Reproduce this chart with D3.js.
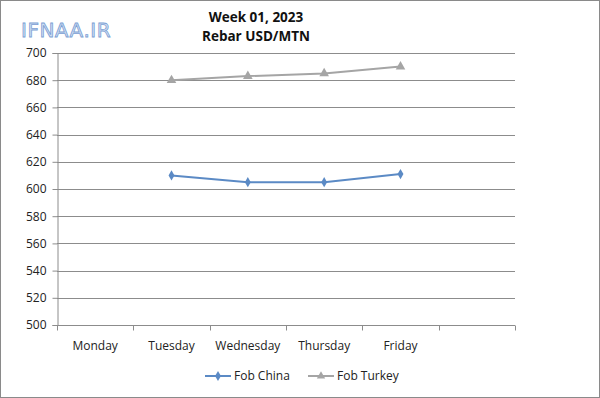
<!DOCTYPE html>
<html>
<head>
<meta charset="utf-8">
<script src="https://cdn.jsdelivr.net/npm/d3@7"></script>
<style>
  body { margin: 0; background: #fff; }
  svg { display: block; font-family: "Open Sans", "DejaVu Sans", sans-serif; }
</style>
</head>
<body>
<div id="chart"></div>
<script>
// chart data
const days = ["Monday", "Tuesday", "Wednesday", "Thursday", "Friday", ""];
const yTicks = [500, 520, 540, 560, 580, 600, 620, 640, 660, 680, 700];
const chinaDays = ["Tuesday", "Wednesday", "Thursday", "Friday"];
const chinaValues = [610, 605, 605, 611];
const turkeyDays = ["Tuesday", "Wednesday", "Thursday", "Friday"];
const turkeyValues = [680, 683, 685, 690];
const seriesNames = ["Fob China", "Fob Turkey"];

const width = 600, height = 398;
const margin = { top: 53, left: 57, right: 85, bottom: 73 };

const svg = d3.select("#chart").append("svg")
  .attr("width", width).attr("height", height);

// outer frame
svg.append("rect")
  .attr("x", 0.5).attr("y", 0.5)
  .attr("width", width - 1).attr("height", height - 1)
  .attr("fill", "#fff").attr("stroke", "#8a8a8a").attr("stroke-width", 1);

const x = d3.scaleBand()
  .domain(days)
  .range([margin.left, width - margin.right]);

const y = d3.scaleLinear()
  .domain([500, 700])
  .range([height - margin.bottom, margin.top]);

// gridlines
svg.append("g")
  .selectAll("line")
  .data(yTicks.slice(1))
  .join("line")
  .attr("x1", margin.left).attr("x2", width - margin.right)
  .attr("y1", d => Math.round(y(d)) + 0.5).attr("y2", d => Math.round(y(d)) + 0.5)
  .attr("stroke", "#8c8c8c").attr("stroke-width", 1);

// y axis
const yAxis = svg.append("g")
  .attr("transform", `translate(${margin.left + 0.5},0)`)
  .call(d3.axisLeft(y).tickValues(yTicks).tickSize(5).tickPadding(6));
yAxis.selectAll("path, line").attr("stroke", "#8c8c8c");
yAxis.selectAll("text").attr("font-size", 12).attr("fill", "#222")
  .attr("font-family", "Open Sans, sans-serif");

// x axis with ticks at band edges
const xAxisG = svg.append("g")
  .attr("transform", `translate(0,${Math.round(y(500)) + 0.5})`);
xAxisG.append("line")
  .attr("x1", margin.left).attr("x2", width - margin.right)
  .attr("stroke", "#8c8c8c");
const edges = days.map(d => x(d)).concat([x(days[days.length - 1]) + x.bandwidth()]);
xAxisG.selectAll(".edge")
  .data(edges)
  .join("line")
  .attr("x1", d => Math.round(d) + 0.5).attr("x2", d => Math.round(d) + 0.5)
  .attr("y1", 0).attr("y2", 5)
  .attr("stroke", "#8c8c8c");
xAxisG.selectAll("text")
  .data(days)
  .join("text")
  .attr("x", d => x(d) + x.bandwidth() / 2)
  .attr("y", 24)
  .attr("text-anchor", "middle")
  .attr("font-size", 12)
  .attr("fill", "#222")
  .text(d => d);

// series
const cx = d => x(d) + x.bandwidth() / 2;
const line = d3.line().x(d => cx(d[0])).y(d => y(d[1]));

const china = chinaDays.map((d, i) => [d, chinaValues[i]]);
const turkey = turkeyDays.map((d, i) => [d, turkeyValues[i]]);

const blue = "#5b8ac5", gray = "#a5a5a5";

svg.append("path").datum(turkey).attr("d", line)
  .attr("fill", "none").attr("stroke", gray).attr("stroke-width", 2);
svg.append("g").selectAll("path").data(turkey).join("path")
  .attr("transform", d => `translate(${cx(d[0])},${y(d[1])})`)
  .attr("d", d3.symbol(d3.symbolTriangle, 40))
  .attr("fill", gray);

svg.append("path").datum(china).attr("d", line)
  .attr("fill", "none").attr("stroke", blue).attr("stroke-width", 2);
svg.append("g").selectAll("path").data(china).join("path")
  .attr("transform", d => `translate(${cx(d[0])},${y(d[1])})`)
  .attr("d", d3.symbol(d3.symbolDiamond, 30))
  .attr("fill", blue);

// title
svg.append("text")
  .attr("x", 256).attr("y", 22)
  .attr("text-anchor", "middle")
  .attr("font-size", 13.5).attr("font-weight", "bold").attr("fill", "#111")
  .text("Week 01, 2023");
svg.append("text")
  .attr("x", 256).attr("y", 41)
  .attr("text-anchor", "middle")
  .attr("font-size", 13.5).attr("font-weight", "bold").attr("fill", "#111")
  .text("Rebar USD/MTN");

// watermark
svg.append("text")
  .attr("x", 21).attr("y", 37)
  .attr("font-size", 20)
  .attr("font-family", "DejaVu Sans, sans-serif")
  .attr("fill", "#d2e0f3").attr("stroke", "#7b9fd4").attr("stroke-width", 0.8)
  .attr("letter-spacing", 0.5)
  .text("IFNAA.IR");

// legend
const legend = svg.append("g").attr("transform", "translate(0,376)");
const legendItems = [
  { name: seriesNames[0], color: blue, symbol: d3.symbolDiamond, x0: 205 },
  { name: seriesNames[1], color: gray, symbol: d3.symbolTriangle, x0: 308 }
];
const li = legend.selectAll("g").data(legendItems).join("g")
  .attr("transform", d => `translate(${d.x0},0)`);
li.append("line").attr("x1", 0).attr("x2", 26)
  .attr("stroke", d => d.color).attr("stroke-width", 2);
li.append("path").attr("transform", "translate(13,0)")
  .attr("d", d => d3.symbol(d.symbol, 30)())
  .attr("fill", d => d.color);
li.append("text").attr("x", 29).attr("y", 4)
  .attr("font-size", 12).attr("fill", "#222")
  .text(d => d.name);
</script>
</body>
</html>
